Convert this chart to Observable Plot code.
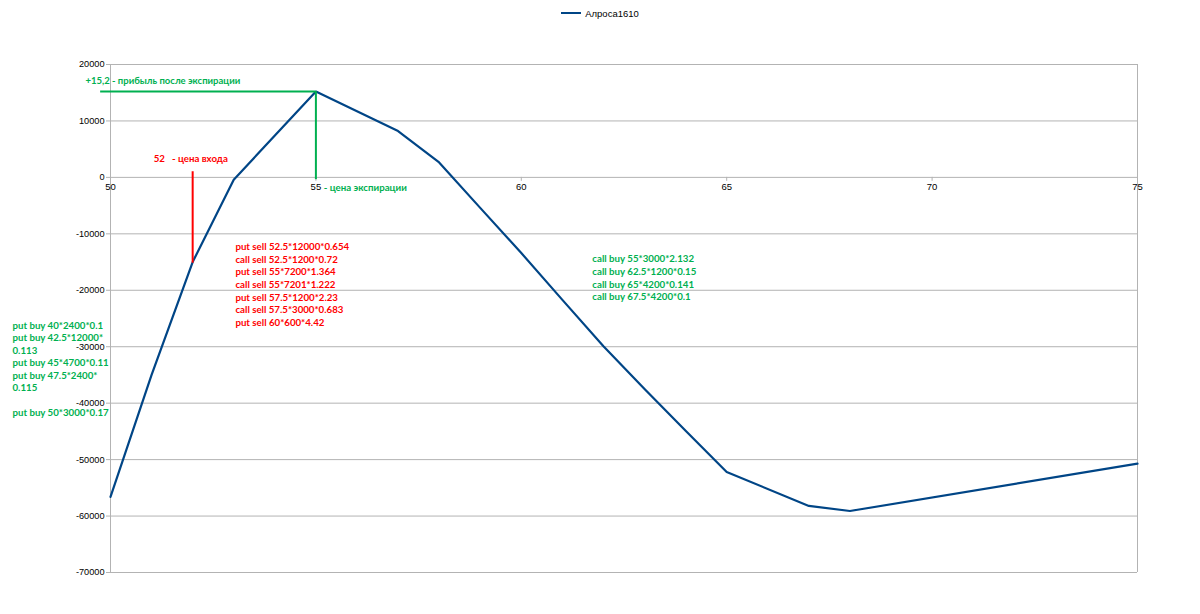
<!DOCTYPE html>
<html>
<head>
<meta charset="utf-8">
<script src="https://cdn.jsdelivr.net/npm/d3@7"></script>
<script src="https://cdn.jsdelivr.net/npm/@observablehq/plot@0.6"></script>
<style>
  body { margin: 0; background: #fff; }
  #legend { height: 26px; display: flex; justify-content: center; align-items: center;
    font-family: "Liberation Sans", Arial, sans-serif; font-size: 9.5px; color: #000; }
  #legend .sw { display: inline-block; width: 20px; height: 2px; background: #004586; margin-right: 4px; }
  svg { display: block; }
</style>
</head>
<body>
<div id="legend"><span class="sw"></span><span>Алроса1610</span></div>
<div id="chart"></div>
<script>
// Data
const seriesName = "Алроса1610";
const prices = [50, 51, 52, 53, 55, 57, 58, 59, 60, 61, 62, 63, 64, 65, 67, 68, 75];
const pnl = [-56600, -35000, -15000, -400, 15200, 8200, 2650, -5400, -13400, -21700, -29900, -37500, -44900, -52200, -58200, -59100, -50700];
const xTicks = [50, 55, 60, 65, 70, 75];
const yTicks = [-70000, -60000, -50000, -40000, -30000, -20000, -10000, 0, 10000, 20000];

const entryPrice = 52;
const entryValue = -15200;
const expiryPrice = 55;
const expiryProfit = 15200;

const profitLabel = "+15,2 - прибыль после экспирации";
const entryLabel = "52   - цена входа";
const expiryLabel = "- цена экспирации";
const sellLegs = [
  "put sell 52.5*12000*0.654",
  "call sell 52.5*1200*0.72",
  "put sell 55*7200*1.364",
  "call sell 55*7201*1.222",
  "put sell 57.5*1200*2.23",
  "call sell 57.5*3000*0.683",
  "put sell 60*600*4.42"
];
const callBuyLegs = [
  "call buy 55*3000*2.132",
  "call buy 62.5*1200*0.15",
  "call buy 65*4200*0.141",
  "call buy 67.5*4200*0.1"
];
const putBuyLegs = [
  "put buy 40*2400*0.1",
  "put buy 42.5*12000*",
  "0.113",
  "put buy 45*4700*0.11",
  "put buy 47.5*2400*",
  "0.115",
  "",
  "put buy 50*3000*0.17"
];

const data = prices.map((x, i) => ({x, y: pnl[i]}));
const green = "#00b050";
const red = "#ff0000";
const annFont = "Lato, Carlito, Calibri, sans-serif";
const annSize = 9.7;

const chart = Plot.plot({
  width: 1200,
  height: 588,
  marginTop: 38,
  marginBottom: 42,
  marginLeft: 110,
  marginRight: 63,
  x: {domain: [50, 75], axis: null},
  y: {domain: [-70000, 20000], axis: null},
  style: {fontFamily: "'Liberation Sans', Arial, sans-serif", fontSize: "9px", color: "#000", background: "#fff"},
  marks: [
    Plot.gridY(yTicks, {stroke: "#b3b3b3", strokeOpacity: 1}),
    Plot.ruleX([50, 75], {stroke: "#b3b3b3"}),
    Plot.axisY(yTicks, {tickSize: 4, tickPadding: 2, stroke: "#b3b3b3", fill: "#000", label: null, tickFormat: d => String(d), fontSize: 9.2}),
    Plot.ruleX(xTicks, {x: d => d, y1: 0, y2: -700, stroke: "#b3b3b3"}),
    Plot.text(xTicks, {x: d => d, y: 0, dy: 10, text: d => String(d), fill: "#000", fontSize: 9.5}),
    Plot.line(data, {x: "x", y: "y", stroke: "#004586", strokeWidth: 2.2}),
    Plot.ruleY([expiryProfit], {x1: 49.76, x2: expiryPrice, stroke: green, strokeWidth: 2}),
    Plot.ruleX([expiryPrice], {y1: expiryProfit, y2: -400, stroke: green, strokeWidth: 2}),
    Plot.ruleX([entryPrice], {y1: 1000, y2: entryValue, stroke: red, strokeWidth: 2}),
    Plot.text([profitLabel], {x: 49.39, y: 17000, text: d => d, textAnchor: "start", fill: green, fontWeight: "bold", fontSize: 9.5, fontFamily: annFont}),
    Plot.text([entryLabel], {x: 51.05, y: 3350, text: d => d, textAnchor: "start", fill: red, fontWeight: "bold", fontSize: annSize, fontFamily: annFont}),
    Plot.text([expiryLabel], {x: 55.19, y: -1790, text: d => d, textAnchor: "start", fill: green, fontWeight: "bold", fontSize: annSize, fontFamily: annFont}),
    Plot.text([sellLegs.join("\n")], {x: 53.04, y: -11300, text: d => d, textAnchor: "start", lineAnchor: "top", lineHeight: 1.306, fill: red, fontWeight: "bold", fontSize: annSize, fontFamily: annFont}),
    Plot.text([callBuyLegs.join("\n")], {x: 61.73, y: -13450, text: d => d, textAnchor: "start", lineAnchor: "top", lineHeight: 1.31, fill: green, fontWeight: "bold", fontSize: annSize, fontFamily: annFont}),
    Plot.text([putBuyLegs.join("\n")], {x: 47.614, y: -25250, text: d => d, textAnchor: "start", lineAnchor: "top", lineHeight: 1.288, fill: green, fontWeight: "bold", fontSize: annSize, fontFamily: annFont})
  ]
});
document.getElementById("chart").appendChild(chart);
</script>
</body>
</html>
